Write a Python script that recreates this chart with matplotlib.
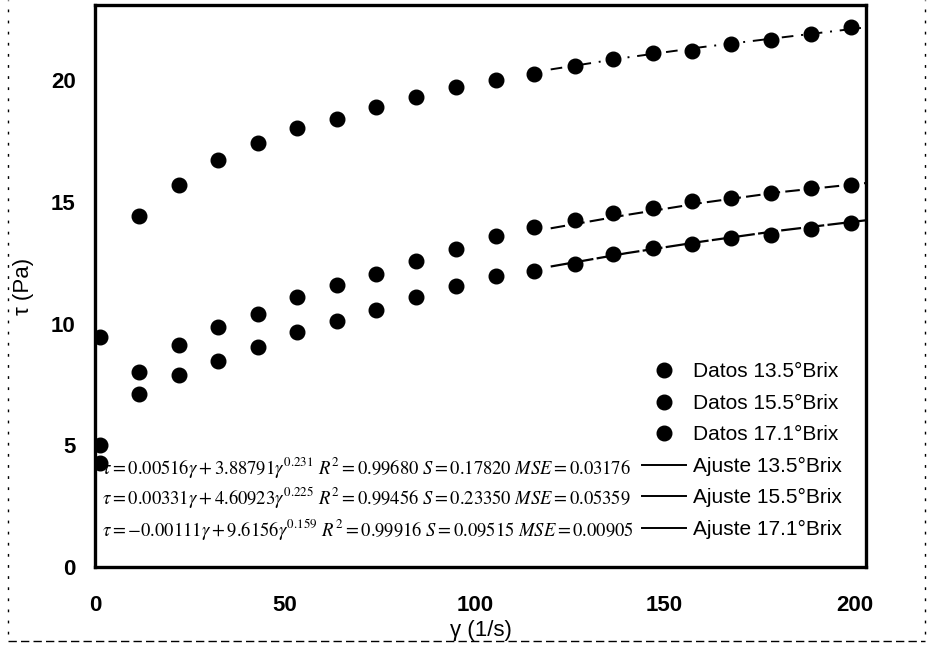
import numpy as np
import matplotlib
matplotlib.use("Agg")
import matplotlib.pyplot as plt
from matplotlib.lines import Line2D

plt.rcParams['font.family'] = ['Liberation Sans', 'DejaVu Sans']
plt.rcParams['mathtext.fontset'] = 'stix'

# shear rate (1/s) of measured points
gamma = [1.3, 11.7, 22.1, 32.5, 43.0, 53.1, 63.8, 74.1, 84.5, 95.0,
         105.7, 115.5, 126.3, 136.4, 146.9, 157.3, 167.5, 178.0, 188.6, 199.1]

# shear stress (Pa) per sugar content
tau_135 = [4.26, 7.13, 7.89, 8.46, 9.05, 9.64, 10.10, 10.58, 11.08, 11.55,
           11.96, 12.18, 12.47, 12.85, 13.13, 13.29, 13.54, 13.63, 13.91, 14.14]
tau_155 = [5.01, 8.02, 9.12, 9.87, 10.39, 11.10, 11.58, 12.06, 12.58, 13.07,
           13.59, 13.97, 14.28, 14.55, 14.77, 15.04, 15.18, 15.39, 15.59, 15.69]
tau_171 = [9.46, 14.43, 15.72, 16.74, 17.44, 18.04, 18.40, 18.90, 19.31, 19.72,
           20.00, 20.28, 20.59, 20.89, 21.14, 21.20, 21.51, 21.68, 21.92, 22.19]

# fitted curves
gamma_fit = [120, 140, 160, 180, 203]
fit_135 = [12.35, 12.90, 13.38, 13.82, 14.25]
fit_155 = [13.92, 14.47, 14.97, 15.40, 15.78]
fit_171 = [20.45, 20.94, 21.37, 21.75, 22.18]

eq_135 = r"$\tau = 0.00516\gamma + 3.88791\gamma^{0.231}\ R^2 = 0.99680\ S = 0.17820\ MSE = 0.03176$"
eq_155 = r"$\tau = 0.00331\gamma + 4.60923\gamma^{0.225}\ R^2 = 0.99456\ S = 0.23350\ MSE = 0.05359$"
eq_171 = r"$\tau = -0.00111\gamma + 9.6156\gamma^{0.159}\ R^2 = 0.99916\ S = 0.09515\ MSE = 0.00905$"

fig = plt.figure(figsize=(9.32, 6.47), dpi=100)
ax = fig.add_axes([0.102, 0.1236, 0.827, 0.868])

ms = 10.5
ax.plot(gamma, tau_135, 'o', color='black', ms=ms, label='Datos 13.5°Brix')
ax.plot(gamma, tau_155, 'o', color='black', ms=ms, label='Datos 15.5°Brix')
ax.plot(gamma, tau_171, 'o', color='black', ms=ms, label='Datos 17.1°Brix')
ax.plot(gamma_fit, fit_135, color='black', lw=1.6, ls=(0, (9, 1.5)), label='Ajuste 13.5°Brix')
ax.plot(gamma_fit, fit_155, color='black', lw=1.5, ls=(0, (7, 2.5)), label='Ajuste 15.5°Brix')
ax.plot(gamma_fit, fit_171, color='black', lw=1.4, ls=(0, (6, 4, 1, 4)), label='Ajuste 17.1°Brix')

ax.set_xlim(0, 203)
ax.set_ylim(0, 23.08)
ax.set_xticks([0, 50, 100, 150, 200])
ax.set_yticks([0, 5, 10, 15, 20])
ax.tick_params(axis='both', length=0, labelsize=16)
ax.tick_params(axis='x', pad=20)
ax.tick_params(axis='y', pad=14)
for lab in ax.get_xticklabels() + ax.get_yticklabels():
    lab.set_fontweight('bold')
for sp in ax.spines.values():
    sp.set_linewidth(2.4)

ax.set_xlabel('γ (1/s)', fontsize=16, labelpad=3)
ax.set_ylabel('τ (Pa)', fontsize=16, labelpad=12)

handles = [Line2D([], [], marker='o', color='black', ls='none', ms=ms)] * 3 + \
    [Line2D([], [], color='black', lw=1.4)] * 3
labels = ['Datos 13.5°Brix', 'Datos 15.5°Brix', 'Datos 17.1°Brix',
          'Ajuste 13.5°Brix', 'Ajuste 15.5°Brix', 'Ajuste 17.1°Brix']
ax.legend(handles, labels, loc='lower right', bbox_to_anchor=(0.98, 0.035),
          frameon=False, fontsize=15, handlelength=2.1, handletextpad=0.35,
          labelspacing=0.6, borderaxespad=0)

for yy, eq in zip([0.178, 0.123, 0.066], [eq_135, eq_155, eq_171]):
    ax.text(0.009, yy, eq, transform=ax.transAxes, fontsize=13.4, va='center', ha='left')

# scan borders
fig.add_artist(Line2D([0.009, 0.009], [0.02, 1.0], transform=fig.transFigure,
                      color='black', lw=1, ls=(0, (2, 6))))
fig.add_artist(Line2D([0.993, 0.993], [0.02, 1.0], transform=fig.transFigure,
                      color='black', lw=1, ls=(0, (2, 6))))
fig.add_artist(Line2D([0.009, 0.993], [0.01, 0.01], transform=fig.transFigure,
                      color='black', lw=1, ls=(0, (6, 3))))

fig.savefig('out.png', dpi=100)
